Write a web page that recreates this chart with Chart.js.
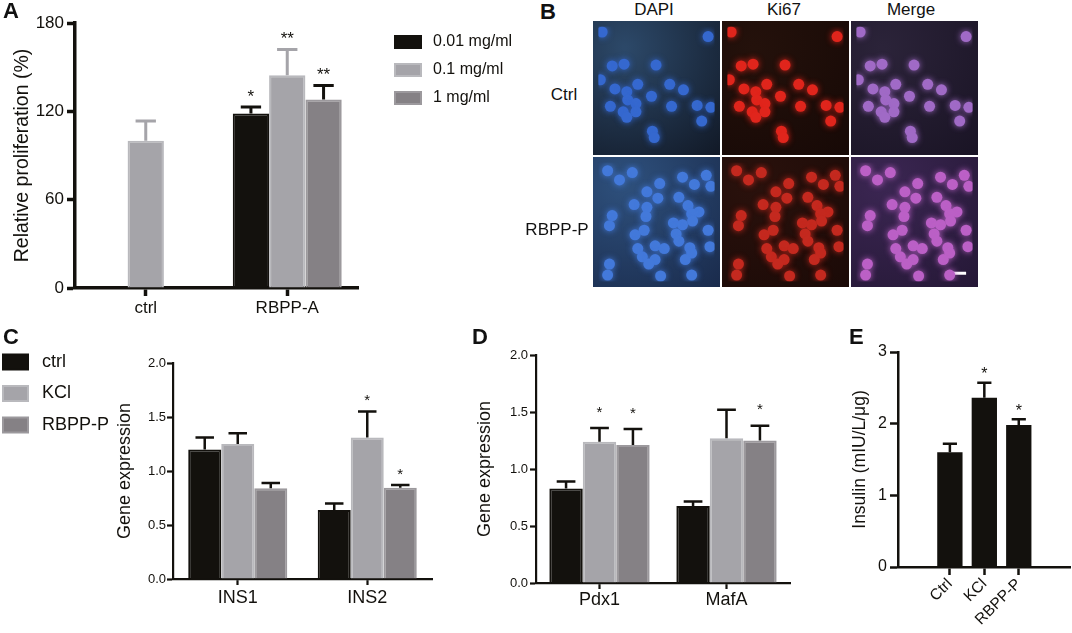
<!DOCTYPE html>
<html>
<head>
<meta charset="utf-8">
<script src="https://cdn.jsdelivr.net/npm/chart.js@4.4.1/dist/chart.umd.min.js"></script>
<style>
body { margin: 0; background: #fff; }
#fig { position: relative; width: 1072px; height: 633px; overflow: hidden; font-family: 'Liberation Sans', Arial, sans-serif; color: #111; }
canvas { position: absolute; }
.lbl { position: absolute; line-height: 1; white-space: nowrap; }
.letter { font-weight: bold; font-size: 22px; }
.head { font-size: 17px; transform: translateX(-50%); }
</style>
</head>
<body>
<div id="fig">
  <canvas id="chA" width="540" height="320" style="left:0;top:0;width:540px;height:320px"></canvas>
  <canvas id="chC" width="450" height="300" style="left:0;top:320px;width:450px;height:300px"></canvas>
  <canvas id="chD" width="360" height="300" style="left:450px;top:320px;width:360px;height:300px"></canvas>
  <canvas id="chE" width="262" height="313" style="left:810px;top:320px;width:262px;height:313px"></canvas>

  <canvas id="bDapiCtrl" width="127" height="134" style="left:593px;top:21px;width:127px;height:134px"></canvas>
  <canvas id="bKiCtrl" width="127" height="134" style="left:722px;top:21px;width:127px;height:134px"></canvas>
  <canvas id="bMergeCtrl" width="127" height="134" style="left:851px;top:21px;width:127px;height:134px"></canvas>
  <canvas id="bDapiRb" width="127" height="130" style="left:593px;top:157px;width:127px;height:130px"></canvas>
  <canvas id="bKiRb" width="127" height="130" style="left:722px;top:157px;width:127px;height:130px"></canvas>
  <canvas id="bMergeRb" width="127" height="130" style="left:851px;top:157px;width:127px;height:130px"></canvas>

  <div class="lbl letter" style="left:3px;top:0">A</div>
  <div class="lbl letter" style="left:540px;top:1px">B</div>
  <div class="lbl letter" style="left:3px;top:326px">C</div>
  <div class="lbl letter" style="left:472px;top:326px">D</div>
  <div class="lbl letter" style="left:849px;top:326px">E</div>

  <div class="lbl head" style="left:654px;top:1px">DAPI</div>
  <div class="lbl head" style="left:784px;top:1px">Ki67</div>
  <div class="lbl head" style="left:911px;top:1px">Merge</div>
  <div class="lbl head" style="left:564px;top:86px">Ctrl</div>
  <div class="lbl head" style="left:557px;top:221px">RBPP-P</div>
</div>
<script>
// A - relative proliferation
const aCats = ['ctrl', 'RBPP-A'];
const aLow = [null, 118.5];     // 0.01 mg/ml
const aMid = [100, 144.5];      // 0.1 mg/ml
const aHigh = [null, 128];      // 1 mg/ml
const aLowErr = [null, 4.5];
const aMidErr = [13.5, 17.5];
const aHighErr = [null, 9.5];
const aLowSig = ['', '*'];
const aMidSig = ['', '**'];
const aHighSig = ['', '**'];

// C - INS genes
const cCats = ['INS1', 'INS2'];
const cCtrl = [1.20, 0.64];
const cKcl = [1.25, 1.31];
const cRbpp = [0.84, 0.845];
const cCtrlErr = [0.11, 0.06];
const cKclErr = [0.10, 0.24];
const cRbppErr = [0.05, 0.025];
const cKclSig = ['', '*'];
const cRbppSig = ['', '*'];

// D - Pdx1 / MafA
const dCats = ['Pdx1', 'MafA'];
const dCtrl = [0.83, 0.675];
const dKcl = [1.24, 1.27];
const dRbpp = [1.21, 1.25];
const dCtrlErr = [0.06, 0.04];
const dKclErr = [0.12, 0.25];
const dRbppErr = [0.14, 0.13];
const dKclSig = ['*', ''];
const dRbppSig = ['*', '*'];

// E - insulin
const eCats = ['Ctrl', 'KCl', 'RBPP-P'];
const eVals = [1.60, 2.36, 1.98];
const eErr = [0.12, 0.21, 0.08];
const eSig = ['', '*', '*'];

// B - nuclei positions (x, y in image pixels)
const ctrlCells = [[4,6],[120,11],[15,43],[28,41],[63,42],[2,58],[18,68],[31,71],[43,63],[78,63],[93,69],[58,76],
  [32,80],[41,84],[13,87],[80,87],[108,86],[123,88],[27,93],[41,93],[31,99],[113,103],[59,114],[61,121]];
const rbppCells = [[10,9],[37,11],[23,19],[67,23],[53,32],[65,39],[92,16],[105,24],[39,46],[53,49],[88,38],[98,47],
  [15,58],[52,59],[110,54],[102,56],[82,66],[92,68],[103,64],[12,69],[40,79],[50,74],[85,78],[88,86],[43,94],[62,91],
  [72,94],[100,93],[48,103],[62,106],[55,111],[102,99],[95,106],[12,111],[10,123],[68,124],[102,123],[118,14],
  [123,26],[120,74],[122,92]];
const scaleBar = [[102,121],[120,121]];

Chart.defaults.font.family = "'Liberation Sans', Arial, sans-serif";
Chart.defaults.color = '#111';
Chart.defaults.animation = false;

const INK = '#13110d';
const LIGHT = '#a5a4a9', LIGHT_EDGE = '#b9b9bd';
const DARK = '#858185', DARK_EDGE = '#9c999d';

// upper error bars + significance stars
const errorBars = {
  id: 'errorBars',
  afterDatasetsDraw(chart, args, o) {
    const ctx = chart.ctx, y = chart.scales.y;
    chart.data.datasets.forEach((ds, di) => {
      if (!ds.errors) return;
      chart.getDatasetMeta(di).data.forEach((bar, i) => {
        const raw = ds.data[i];
        const v = (raw && typeof raw === 'object') ? raw.y : raw;
        const e = ds.errors[i];
        if (v == null || e == null) return;
        const top = y.getPixelForValue(v + e);
        const half = bar.width * 0.28;
        ctx.save();
        ctx.strokeStyle = ds.errorColor || INK;
        ctx.lineWidth = o.width;
        ctx.beginPath();
        ctx.moveTo(bar.x, bar.y);
        ctx.lineTo(bar.x, top);
        ctx.moveTo(bar.x - half, top);
        ctx.lineTo(bar.x + half, top);
        ctx.stroke();
        if (ds.sig && ds.sig[i]) {
          ctx.fillStyle = INK;
          ctx.font = o.starSize + "px 'Liberation Sans', Arial";
          ctx.textAlign = 'center';
          ctx.textBaseline = 'alphabetic';
          ctx.fillText(ds.sig[i], bar.x, top - o.starGap + o.starSize * 0.57);
        }
        ctx.restore();
      });
    });
  }
};

const boxLegend = {
  id: 'boxLegend',
  afterDraw(chart, args, o) {
    const ctx = chart.ctx;
    chart.data.datasets.forEach((ds, i) => {
      const cy = o.y + i * o.dy;
      ctx.save();
      ctx.fillStyle = ds.borderColor;
      ctx.fillRect(o.x, cy - o.h / 2, o.w, o.h);
      ctx.fillStyle = ds.backgroundColor;
      ctx.fillRect(o.x + 2, cy - o.h / 2 + 2, o.w - 4, o.h - 4);
      ctx.fillStyle = INK;
      ctx.font = o.size + "px 'Liberation Sans', Arial";
      ctx.textAlign = 'left';
      ctx.textBaseline = 'middle';
      ctx.fillText(ds.label, o.tx, cy);
      ctx.restore();
    });
  }
};

function axes(o) {
  const grid = { drawOnChartArea: false, offset: false, tickLength: o.tick, tickWidth: o.line, tickColor: INK };
  return {
    x: Object.assign({
      grid: grid,
      border: { color: INK, width: o.line },
      ticks: { font: { size: o.xSize }, padding: o.xPad, color: INK },
      afterFit(s) { s.height = o.xH; }
    }, o.x || {}),
    y: {
      min: 0, max: o.max,
      grid: grid,
      border: { color: INK, width: o.line },
      ticks: { stepSize: o.step, font: { size: o.ySize }, padding: o.yPad, color: INK, callback: o.fmt },
      title: { display: true, text: o.title, font: { size: o.tSize }, color: INK, padding: { top: o.tPad, bottom: 0 } },
      afterFit(s) { s.width = o.yW; }
    }
  };
}

function barSet(label, data, errors, sig, fill, edge, errColor) {
  return {
    label: label, data: data, errors: errors, sig: sig,
    backgroundColor: fill, borderColor: edge, borderWidth: 2, borderSkipped: 'start',
    errorColor: errColor
  };
}

const noInteract = { legend: { display: false }, tooltip: { enabled: false } };
const oneDecimal = v => Number(v).toFixed(1);

new Chart(document.getElementById('chA'), {
  type: 'bar',
  data: {
    labels: aCats,
    datasets: [
      barSet('0.01 mg/ml', aLow, aLowErr, aLowSig, INK, INK, INK),
      barSet('0.1 mg/ml', aMid, aMidErr, aMidSig, LIGHT, LIGHT_EDGE, LIGHT),
      barSet('1 mg/ml', aHigh, aHighErr, aHighSig, DARK, DARK_EDGE, INK)
    ]
  },
  options: {
    responsive: false, events: [],
    layout: { padding: { left: 0, top: 23, right: 182, bottom: 0 } },
    datasets: { bar: { categoryPercentage: 0.77, barPercentage: 1 } },
    plugins: Object.assign({
      errorBars: { width: 3, starGap: 15, starSize: 17 },
      boxLegend: { x: 394, y: 42, dy: 28, w: 28, h: 14, tx: 433, size: 16 }
    }, noInteract),
    scales: axes({ max: 180, step: 60, tick: 8, line: 3.5, xSize: 17, xPad: 2, xH: 32, ySize: 17, yPad: 3,
      title: 'Relative proliferation (%)', tSize: 19.5, tPad: 11, yW: 75, fmt: v => v })
  },
  plugins: [errorBars, boxLegend]
});

new Chart(document.getElementById('chC'), {
  type: 'bar',
  data: {
    labels: cCats,
    datasets: [
      barSet('ctrl', cCtrl, cCtrlErr, null, INK, INK, INK),
      barSet('KCl', cKcl, cKclErr, cKclSig, LIGHT, LIGHT_EDGE, INK),
      barSet('RBPP-P', cRbpp, cRbppErr, cRbppSig, DARK, DARK_EDGE, INK)
    ]
  },
  options: {
    responsive: false, events: [],
    layout: { padding: { left: 0, top: 43, right: 18, bottom: 0 } },
    datasets: { bar: { categoryPercentage: 0.765, barPercentage: 1 } },
    plugins: Object.assign({
      errorBars: { width: 2.5, starGap: 15, starSize: 15 },
      boxLegend: { x: 2, y: 42, dy: 31.5, w: 27, h: 17, tx: 42, size: 18 }
    }, noInteract),
    scales: axes({ max: 2, step: 0.5, tick: 6, line: 2.2, xSize: 18, xPad: 2, xH: 41, ySize: 13, yPad: 1,
      title: 'Gene expression', tSize: 18, tPad: 114, yW: 173, fmt: oneDecimal })
  },
  plugins: [errorBars, boxLegend]
});

new Chart(document.getElementById('chD'), {
  type: 'bar',
  data: {
    labels: dCats,
    datasets: [
      barSet('ctrl', dCtrl, dCtrlErr, null, INK, INK, INK),
      barSet('KCl', dKcl, dKclErr, dKclSig, LIGHT, LIGHT_EDGE, INK),
      barSet('RBPP-P', dRbpp, dRbppErr, dRbppSig, DARK, DARK_EDGE, INK)
    ]
  },
  options: {
    responsive: false, events: [],
    layout: { padding: { left: 0, top: 35, right: 20, bottom: 0 } },
    datasets: { bar: { categoryPercentage: 0.79, barPercentage: 1 } },
    plugins: Object.assign({
      errorBars: { width: 2.5, starGap: 20, starSize: 15 }
    }, noInteract),
    scales: axes({ max: 2, step: 0.5, tick: 6, line: 2.2, xSize: 18, xPad: 0, xH: 37, ySize: 13, yPad: 2,
      title: 'Gene expression', tSize: 18, tPad: 24, yW: 86, fmt: oneDecimal })
  },
  plugins: [errorBars]
});

new Chart(document.getElementById('chE'), {
  type: 'bar',
  data: {
    datasets: [{
      label: 'Insulin',
      data: eVals.map((v, i) => ({ x: i, y: v })),
      errors: eErr, sig: eSig,
      backgroundColor: INK, borderColor: INK, borderWidth: 0, errorColor: INK,
      categoryPercentage: 1, barPercentage: 0.735
    }]
  },
  options: {
    responsive: false, events: [],
    layout: { padding: { left: 0, top: 32, right: 2, bottom: 0 } },
    plugins: Object.assign({
      errorBars: { width: 2.5, starGap: 12.5, starSize: 16 }
    }, noInteract),
    scales: axes({ max: 3, step: 1, tick: 8, line: 2.5, xH: 66, ySize: 16, yPad: 3,
      title: 'Insulin (mIU/L/\u03bcg)', tSize: 17.5, tPad: 39.5, yW: 88, fmt: v => v,
      x: {
        type: 'linear', min: -0.674, max: 2.655,
        afterBuildTicks(s) { s.ticks = eCats.map((c, i) => ({ value: i })); },
        ticks: { font: { size: 15.5 }, padding: 0, color: INK, maxRotation: 45, minRotation: 45,
          autoSkip: false, callback: v => eCats[v] }
      } })
  },
  plugins: [errorBars]
});

// B - fluorescence panels drawn as scatter plots of nuclei
const microBg = {
  id: 'microBg',
  beforeDraw(chart, args, o) {
    const { ctx, width, height } = chart;
    const g = ctx.createRadialGradient(width * 0.25, height * 0.2, 2, width * 0.25, height * 0.2, width * 1.1);
    g.addColorStop(0, o.bg[0]);
    g.addColorStop(1, o.bg[1]);
    ctx.save();
    ctx.fillStyle = g;
    ctx.fillRect(0, 0, width, height);
    ctx.restore();
  },
  beforeDatasetDraw(chart, args, o) {
    if (args.index === 0) {
      chart.ctx.shadowColor = o.glow;
      chart.ctx.shadowBlur = 6;
    }
  },
  afterDatasetDraw(chart) {
    chart.ctx.shadowColor = 'transparent';
    chart.ctx.shadowBlur = 0;
  }
};

const panels = [
  { id: 'bDapiCtrl', cells: ctrlCells, h: 134, bg: ['#2c4868', '#121a28'], dot: '#3568cf' },
  { id: 'bKiCtrl', cells: ctrlCells, h: 134, bg: ['#24110b', '#170906'], dot: '#e0251c' },
  { id: 'bMergeCtrl', cells: ctrlCells, h: 134, bg: ['#2b2339', '#1a1425'], dot: '#a06ac6' },
  { id: 'bDapiRb', cells: rbppCells, h: 130, bg: ['#2e507c', '#1a2b4c'], dot: '#4379da' },
  { id: 'bKiRb', cells: rbppCells, h: 130, bg: ['#2a110c', '#1b0a07'], dot: '#c4291f' },
  { id: 'bMergeRb', cells: rbppCells, h: 130, bg: ['#3b2652', '#251836'], dot: '#bb60c6', bar: true }
];

panels.forEach(p => {
  const sets = [{
    data: p.cells.map(c => ({ x: c[0], y: c[1] })),
    backgroundColor: p.dot, pointRadius: 5.5, pointBorderWidth: 0, pointHoverRadius: 5.5
  }];
  if (p.bar) {
    sets.push({
      data: scaleBar.map(c => ({ x: c[0], y: c[1] })),
      showLine: true, borderColor: '#ffffff', borderWidth: 3, pointRadius: 0
    });
  }
  new Chart(document.getElementById(p.id), {
    type: 'scatter',
    data: { datasets: sets },
    options: {
      responsive: false, events: [],
      layout: { padding: 0 },
      plugins: Object.assign({ microBg: { bg: p.bg, glow: p.dot } }, noInteract),
      scales: {
        x: { type: 'linear', display: false, min: 0, max: 127 },
        y: { display: false, min: 0, max: p.h, reverse: true }
      }
    },
    plugins: [microBg]
  });
});
</script>
</body>
</html>
